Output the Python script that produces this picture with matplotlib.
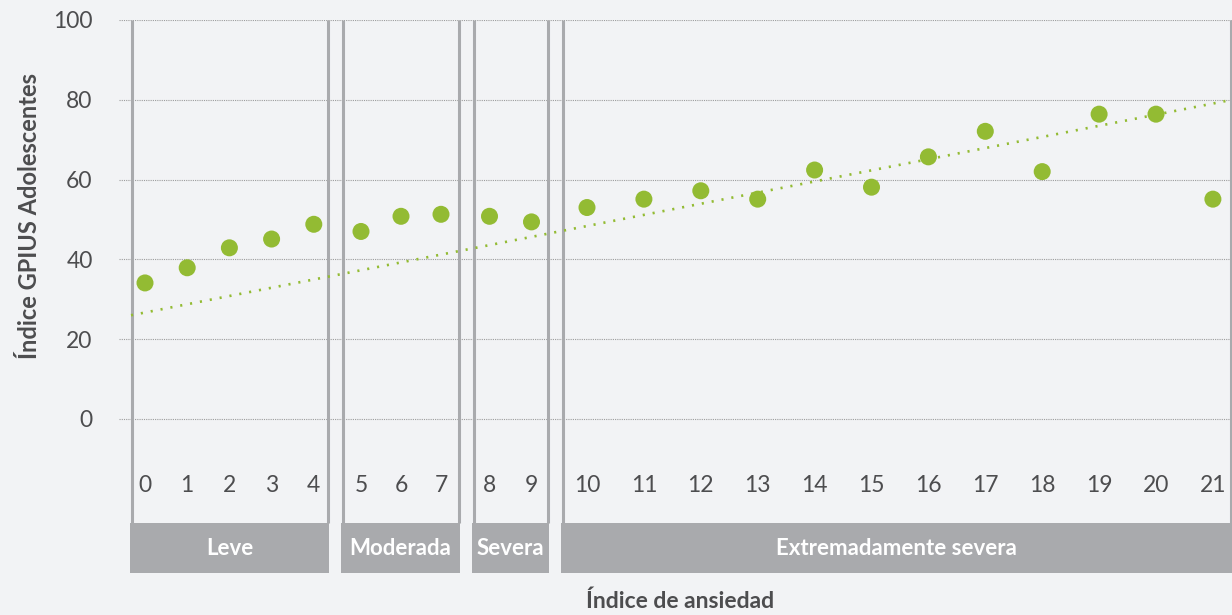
import numpy as np
import matplotlib
matplotlib.use("Agg")
import matplotlib.pyplot as plt
from matplotlib.patches import Rectangle

# data
anx_index = list(range(22))
gpius = [34.1, 37.9, 42.9, 45.1, 48.8,
         47.0, 50.8, 51.3,
         50.8, 49.4,
         53.0, 55.1, 57.2, 55.1, 62.4, 58.1, 65.7, 72.1, 62.0, 76.4, 76.4, 55.1]
group_names = ["Leve", "Moderada", "Severa", "Extremadamente severa"]
group_sizes = [5, 3, 2, 12]
trend_start, trend_end = 26, 80
y_ticks = [0, 20, 40, 60, 80, 100]

# layout (x in pixel-like units of the 1232 px canvas)
box_edges = [(130, 329), (341, 460), (472, 549), (561, 1232)]
first_offset = [15, 20, 17.5, 26]
step = [42.2, 40, 42, 56.9]

x_pos = []
for (left, right), n, off, st in zip(box_edges, group_sizes, first_offset, step):
    for k in range(n):
        x_pos.append(left + off + k * st)

bg = "#f2f3f5"
green = "#93bb33"
sep_gray = "#a9aaad"
txt = "#4d4d4f"
plt.rcParams['font.family'] = ['Lato', 'DejaVu Sans']

fig = plt.figure(figsize=(12.32, 6.15), dpi=100, facecolor=bg)
ax = fig.add_axes([119 / 1232, 1 - 573 / 615, 1 - 119 / 1232, 553 / 615])
ax.set_facecolor(bg)
ax.set_xlim(119, 1232)
ax.set_ylim(-38.6, 100)

# grid
ax.set_yticks(y_ticks)
ax.set_yticklabels([str(v) for v in y_ticks], fontsize=16.5, color=txt)
ax.tick_params(axis="y", length=0, pad=19)
ax.set_xticks([])
ax.yaxis.grid(True, linestyle=(0, (1, 1)), linewidth=0.8, color="#9c9c9c")
ax.set_axisbelow(True)
for s in ax.spines.values():
    s.set_visible(False)

box_top, box_bot = -26.1, -38.6

# group separators and boxes
for (left, right), name in zip(box_edges, group_names):
    ax.vlines([left + 1.5, right - 1.5], box_top, 100, color=sep_gray, lw=2.2, zorder=2)
    ax.add_patch(Rectangle((left, box_bot), right - left, box_top - box_bot,
                           facecolor=sep_gray, edgecolor="none", zorder=3))
    ax.text((left + right) / 2, (box_top + box_bot) / 2, name, ha="center", va="center",
            color="white", fontsize=16, fontweight="bold", zorder=4)

# x tick labels
for x, lab in zip(x_pos, anx_index):
    ax.text(x, -16.7, str(lab), ha="center", va="center", fontsize=16.5, color=txt)

# trend line
ax.plot([131, 1232], [trend_start, trend_end], color=green, lw=1.9,
        linestyle=(0, (0.8, 3.0)), zorder=4, clip_on=False)

# points
ax.scatter(x_pos, gpius, s=150, color=green, edgecolors="none", zorder=5)

fig.text(30 / 1232, 1 - 216 / 615, "Índice GPIUS Adolescentes", rotation=90,
         ha="center", va="center", fontsize=17, fontweight="bold", color=txt)
fig.text(680 / 1232, 1 - 601 / 615, "Índice de ansiedad", ha="center", va="center",
         fontsize=16.5, fontweight="bold", color=txt)

fig.savefig("out.png", dpi=100, facecolor=bg)
